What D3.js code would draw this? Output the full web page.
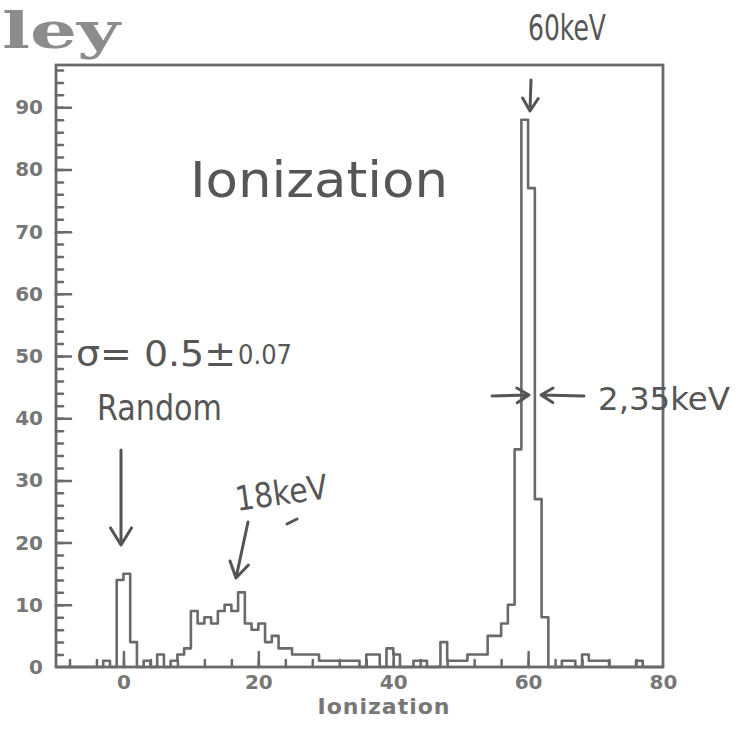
<!DOCTYPE html>
<html>
<head>
<meta charset="utf-8">
<script src="https://cdn.jsdelivr.net/npm/d3@7"></script>
<style>
  body { margin: 0; background: #fff; }
  svg { display: block; }
  .hand { font-family: "DejaVu Sans", sans-serif; fill: #565656; }
  .lbl { font-family: "DejaVu Sans", sans-serif; font-weight: bold; fill: #777; }
</style>
</head>
<body>
<svg width="742" height="738"></svg>
<script>
// histogram: 1 keV bins from -10 to 80
var binStart = -10;
var binWidth = 1;
var counts = [
  0, 0, 0, 0, 0, 0, 0, 1, 0, 14,      // -10 .. -1
  15, 4, 0, 1, 0, 2, 0, 1, 2, 3,      // 0 .. 9
  9, 7, 8, 7, 9, 10, 9, 12, 7, 6,     // 10 .. 19
  7, 4, 5, 3, 3, 2, 2, 2, 2, 1,       // 20 .. 29
  1, 1, 1, 1, 1, 0, 2, 2, 0, 3,       // 30 .. 39
  2, 0, 0, 1, 1, 0, 0, 4, 1, 1,       // 40 .. 49
  1, 2, 2, 2, 5, 5, 7, 10, 35, 88,    // 50 .. 59
  77, 27, 8, 0, 0, 1, 1, 0, 2, 1,     // 60 .. 69
  1, 1, 0, 0, 0, 0, 1, 0, 0, 0        // 70 .. 79
];

var xMajor = [0, 20, 40, 60];
var xLabels = [0, 20, 40, 60, 80];
var xMinor = d3.range(-8, 80, 4);
var yMajor = [10, 20, 30, 40, 50, 60, 70, 80, 90];
var yLabels = [0, 10, 20, 30, 40, 50, 60, 70, 80, 90];
var yMinor = d3.range(2, 97, 2);
var yMax = 96.8;   // 1.1 x peak

var ink = "#6a6a6a";
var pen = "#555";

var margin = { top: 65, right: 79, bottom: 71, left: 56 },
  width = 742 - margin.left - margin.right,
  height = 738 - margin.top - margin.bottom;

var svg = d3.select("svg");
var g = svg.append("g")
  .attr("transform", "translate(" + margin.left + "," + margin.top + ")");

var x = d3.scaleLinear().domain([binStart, binStart + counts.length * binWidth]).range([0, width]);
var y = d3.scaleLinear().domain([0, yMax]).range([height, 0]);

// frame
g.append("rect")
  .attr("width", width).attr("height", height)
  .attr("fill", "none").attr("stroke", ink).attr("stroke-width", 2.8);

function styleTicks(sel) {
  sel.select(".domain").remove();
  sel.selectAll(".tick line").attr("stroke", ink).attr("stroke-width", 2.5).attr("stroke-linecap", "round");
}

// y ticks pointing into the frame
g.append("g").call(d3.axisRight(y).tickValues(yMinor).tickSize(7).tickFormat("")).call(styleTicks);
g.append("g").call(d3.axisRight(y).tickValues(yMajor).tickSize(15).tickFormat("")).call(styleTicks);
var yl = g.append("g").call(d3.axisLeft(y).tickValues(yLabels).tickSize(0).tickPadding(13));
yl.select(".domain").remove();
yl.selectAll("text").attr("class", "lbl").style("font-size", "20px").attr("fill", null);

// x ticks pointing up
g.append("g").attr("transform", "translate(0," + height + ")")
  .call(d3.axisTop(x).tickValues(xMinor).tickSize(7).tickFormat("")).call(styleTicks);
g.append("g").attr("transform", "translate(0," + height + ")")
  .call(d3.axisTop(x).tickValues(xMajor).tickSize(15).tickFormat("")).call(styleTicks);
var xl = g.append("g").attr("transform", "translate(0," + height + ")")
  .call(d3.axisBottom(x).tickValues(xLabels).tickSize(0).tickPadding(8));
xl.select(".domain").remove();
xl.selectAll("text").attr("class", "lbl").style("font-size", "20px").attr("fill", null);

// histogram outline
var pts = counts.map(function (c, i) { return [binStart + i * binWidth, c]; });
pts.push([binStart + counts.length * binWidth, counts[counts.length - 1]]);
pts.push([binStart + counts.length * binWidth, 0]);

g.append("path")
  .datum(pts)
  .attr("fill", "none")
  .attr("stroke", ink)
  .attr("stroke-width", 2.6)
  .attr("stroke-linejoin", "round")
  .attr("d", d3.line()
    .x(function (d) { return x(d[0]); })
    .y(function (d) { return y(d[1]); })
    .curve(d3.curveStepAfter));

// axis title
svg.append("text")
  .attr("class", "lbl")
  .attr("x", 384).attr("y", 714)
  .attr("text-anchor", "middle")
  .style("font-size", "22px")
  .style("letter-spacing", "1px")
  .text("Ionization");

// partial heading at top left
svg.append("text")
  .attr("x", 2).attr("y", 48)
  .style("font-family", "'DejaVu Serif', serif")
  .style("font-weight", "bold")
  .style("font-size", "50px")
  .attr("fill", "#8c8c8c")
  .attr("textLength", 118)
  .attr("lengthAdjust", "spacingAndGlyphs")
  .text("ley");

// handwritten notes
function note(txt, x0, y0, size, len, rot) {
  var t = svg.append("text")
    .attr("class", "hand")
    .attr("x", x0).attr("y", y0)
    .style("font-size", size + "px")
    .attr("textLength", len)
    .attr("lengthAdjust", "spacingAndGlyphs")
    .text(txt);
  if (rot) t.attr("transform", "rotate(" + rot + "," + x0 + "," + y0 + ")");
  return t;
}

note("60keV", 528, 40, 36, 78);
note("Ionization", 190, 197, 50, 258);
note("σ= 0.5±", 76, 366, 36, 160);
svg.append("text").attr("class", "hand")
  .attr("x", 238).attr("y", 364)
  .style("font-size", "26px")
  .attr("textLength", 54).attr("lengthAdjust", "spacingAndGlyphs")
  .text("0.07");
note("Random", 97, 420, 36, 125);
note("18keV", 237, 511, 34, 93, -8);
note("2,35keV", 598, 410, 32, 132);

function arrow(x1, y1, x2, y2, head) {
  var a = Math.atan2(y2 - y1, x2 - x1);
  var h = head || 13;
  var p = d3.path();
  p.moveTo(x1, y1); p.lineTo(x2, y2);
  p.moveTo(x2 - h * Math.cos(a - 0.55), y2 - h * Math.sin(a - 0.55));
  p.lineTo(x2, y2);
  p.lineTo(x2 - h * Math.cos(a + 0.55), y2 - h * Math.sin(a + 0.55));
  svg.append("path").attr("d", p.toString())
    .attr("fill", "none").attr("stroke", pen).attr("stroke-width", 3)
    .attr("stroke-linecap", "round").attr("stroke-linejoin", "round");
}

arrow(531, 80, 530, 111, 15);
arrow(121, 450, 121, 545, 20);
arrow(248, 522, 236, 578, 18);
arrow(492, 396, 529, 395, 14);
arrow(584, 396, 541, 395, 14);

// little stray pen mark
svg.append("path").attr("d", "M287,524 L297,519")
  .attr("stroke", pen).attr("stroke-width", 3).attr("stroke-linecap", "round");
</script>
</body>
</html>
